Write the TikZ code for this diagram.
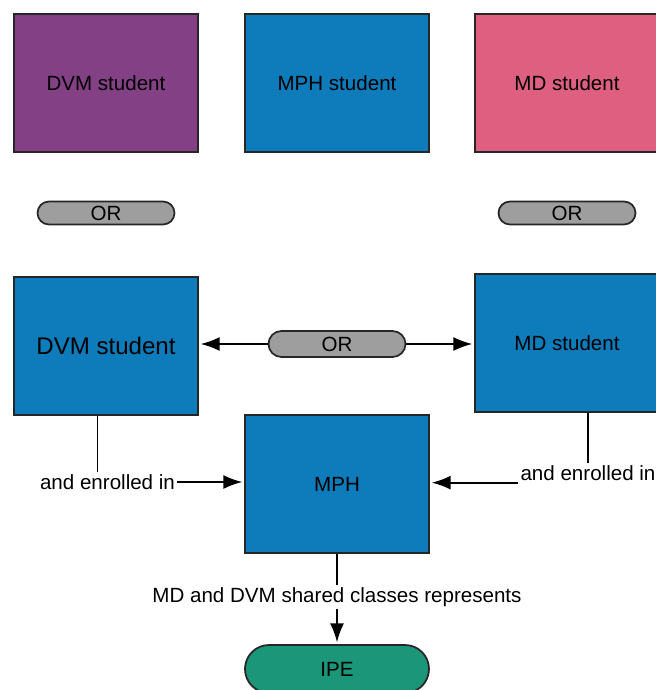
\documentclass[tikz,border=0pt]{standalone}
\usepackage{fontspec}
\setmainfont{Liberation Sans}
\usetikzlibrary{arrows.meta,shapes.misc}
\definecolor{dvmpurple}{RGB}{131,64,133}
\definecolor{mphblue}{RGB}{14,123,186}
\definecolor{mdpink}{RGB}{222,95,128}
\definecolor{orgray}{RGB}{158,158,158}
\definecolor{ipegreen}{RGB}{28,150,121}

\begin{document}
\begin{tikzpicture}[
  every node/.style = {font=\fontsize{11.7}{14}\selectfont},
  box/.style = {draw=black!85, line width=1pt, minimum width=3.68cm,
    minimum height=2.76cm, inner sep=0pt},
  orpill/.style = {draw=black!85, line width=1pt, fill=orgray,
    rounded rectangle, minimum width=2.74cm, minimum height=0.46cm,
    inner sep=0pt},
  arr/.style = {-{Latex[length=3.8mm,width=2.8mm]}, line width=1.1pt, shorten >=1pt}]
  \useasboundingbox (0,0) rectangle (13.1,-13.8);
  \node[box, fill=dvmpurple] (dvm) at (2.12,-1.66) {DVM student};
  \node[box, fill=mphblue] (mphs) at (6.74,-1.66) {MPH student};
  \node[box, fill=mdpink] (md) at (11.34,-1.66) {MD student};
  \node[orpill] (orL) at (2.12,-4.26) {\raisebox{-1.5pt}{OR}};
  \node[orpill] (orR) at (11.34,-4.26) {\raisebox{-1.5pt}{OR}};
  \node[box, fill=mphblue, font=\fontsize{13.7}{16}\selectfont] (dvm2) at (2.12,-6.92) {DVM student};
  \node[box, fill=mphblue] (md2) at (11.34,-6.86) {MD student};
  \node[orpill, minimum height=0.52cm] (orM) at (6.74,-6.88) {\raisebox{-1.5pt}{OR}};
  \node[box, fill=mphblue] (mph) at (6.74,-9.68) {MPH};
  \node[orpill, fill=ipegreen, minimum width=3.68cm, minimum height=0.96cm] (ipe) at (6.74,-13.38) {IPE};
  \node[inner sep=1pt] (lblL) at (2.15,-9.64) {and enrolled in};
  \node[inner sep=1pt] (lblR) at (11.76,-9.46) {and enrolled in};
  \node[inner sep=1pt] (lblB) at (6.74,-11.94) {MD and DVM shared classes represents};
  \draw[arr] (orM.west) -- (dvm2.east |- orM.west);
  \draw[arr] (orM.east) -- (md2.west |- orM.east);
  \draw[line width=1.1pt] ([xshift=-0.2cm]lblL.north) -- ([xshift=-0.2cm]lblL.north |- dvm2.south);
  \draw[arr] (lblL.east) -- (lblL.east -| mph.west);
  \draw[line width=1.1pt] (lblR.north) -- (lblR.north |- md2.south);
  \draw[arr] (lblR.south west) -- (lblR.south west -| mph.east);
  \draw[line width=1.1pt] (mph.south) -- (lblB.north);
  \draw[arr] (lblB.south) -- (ipe.north);
\end{tikzpicture}
\end{document}
